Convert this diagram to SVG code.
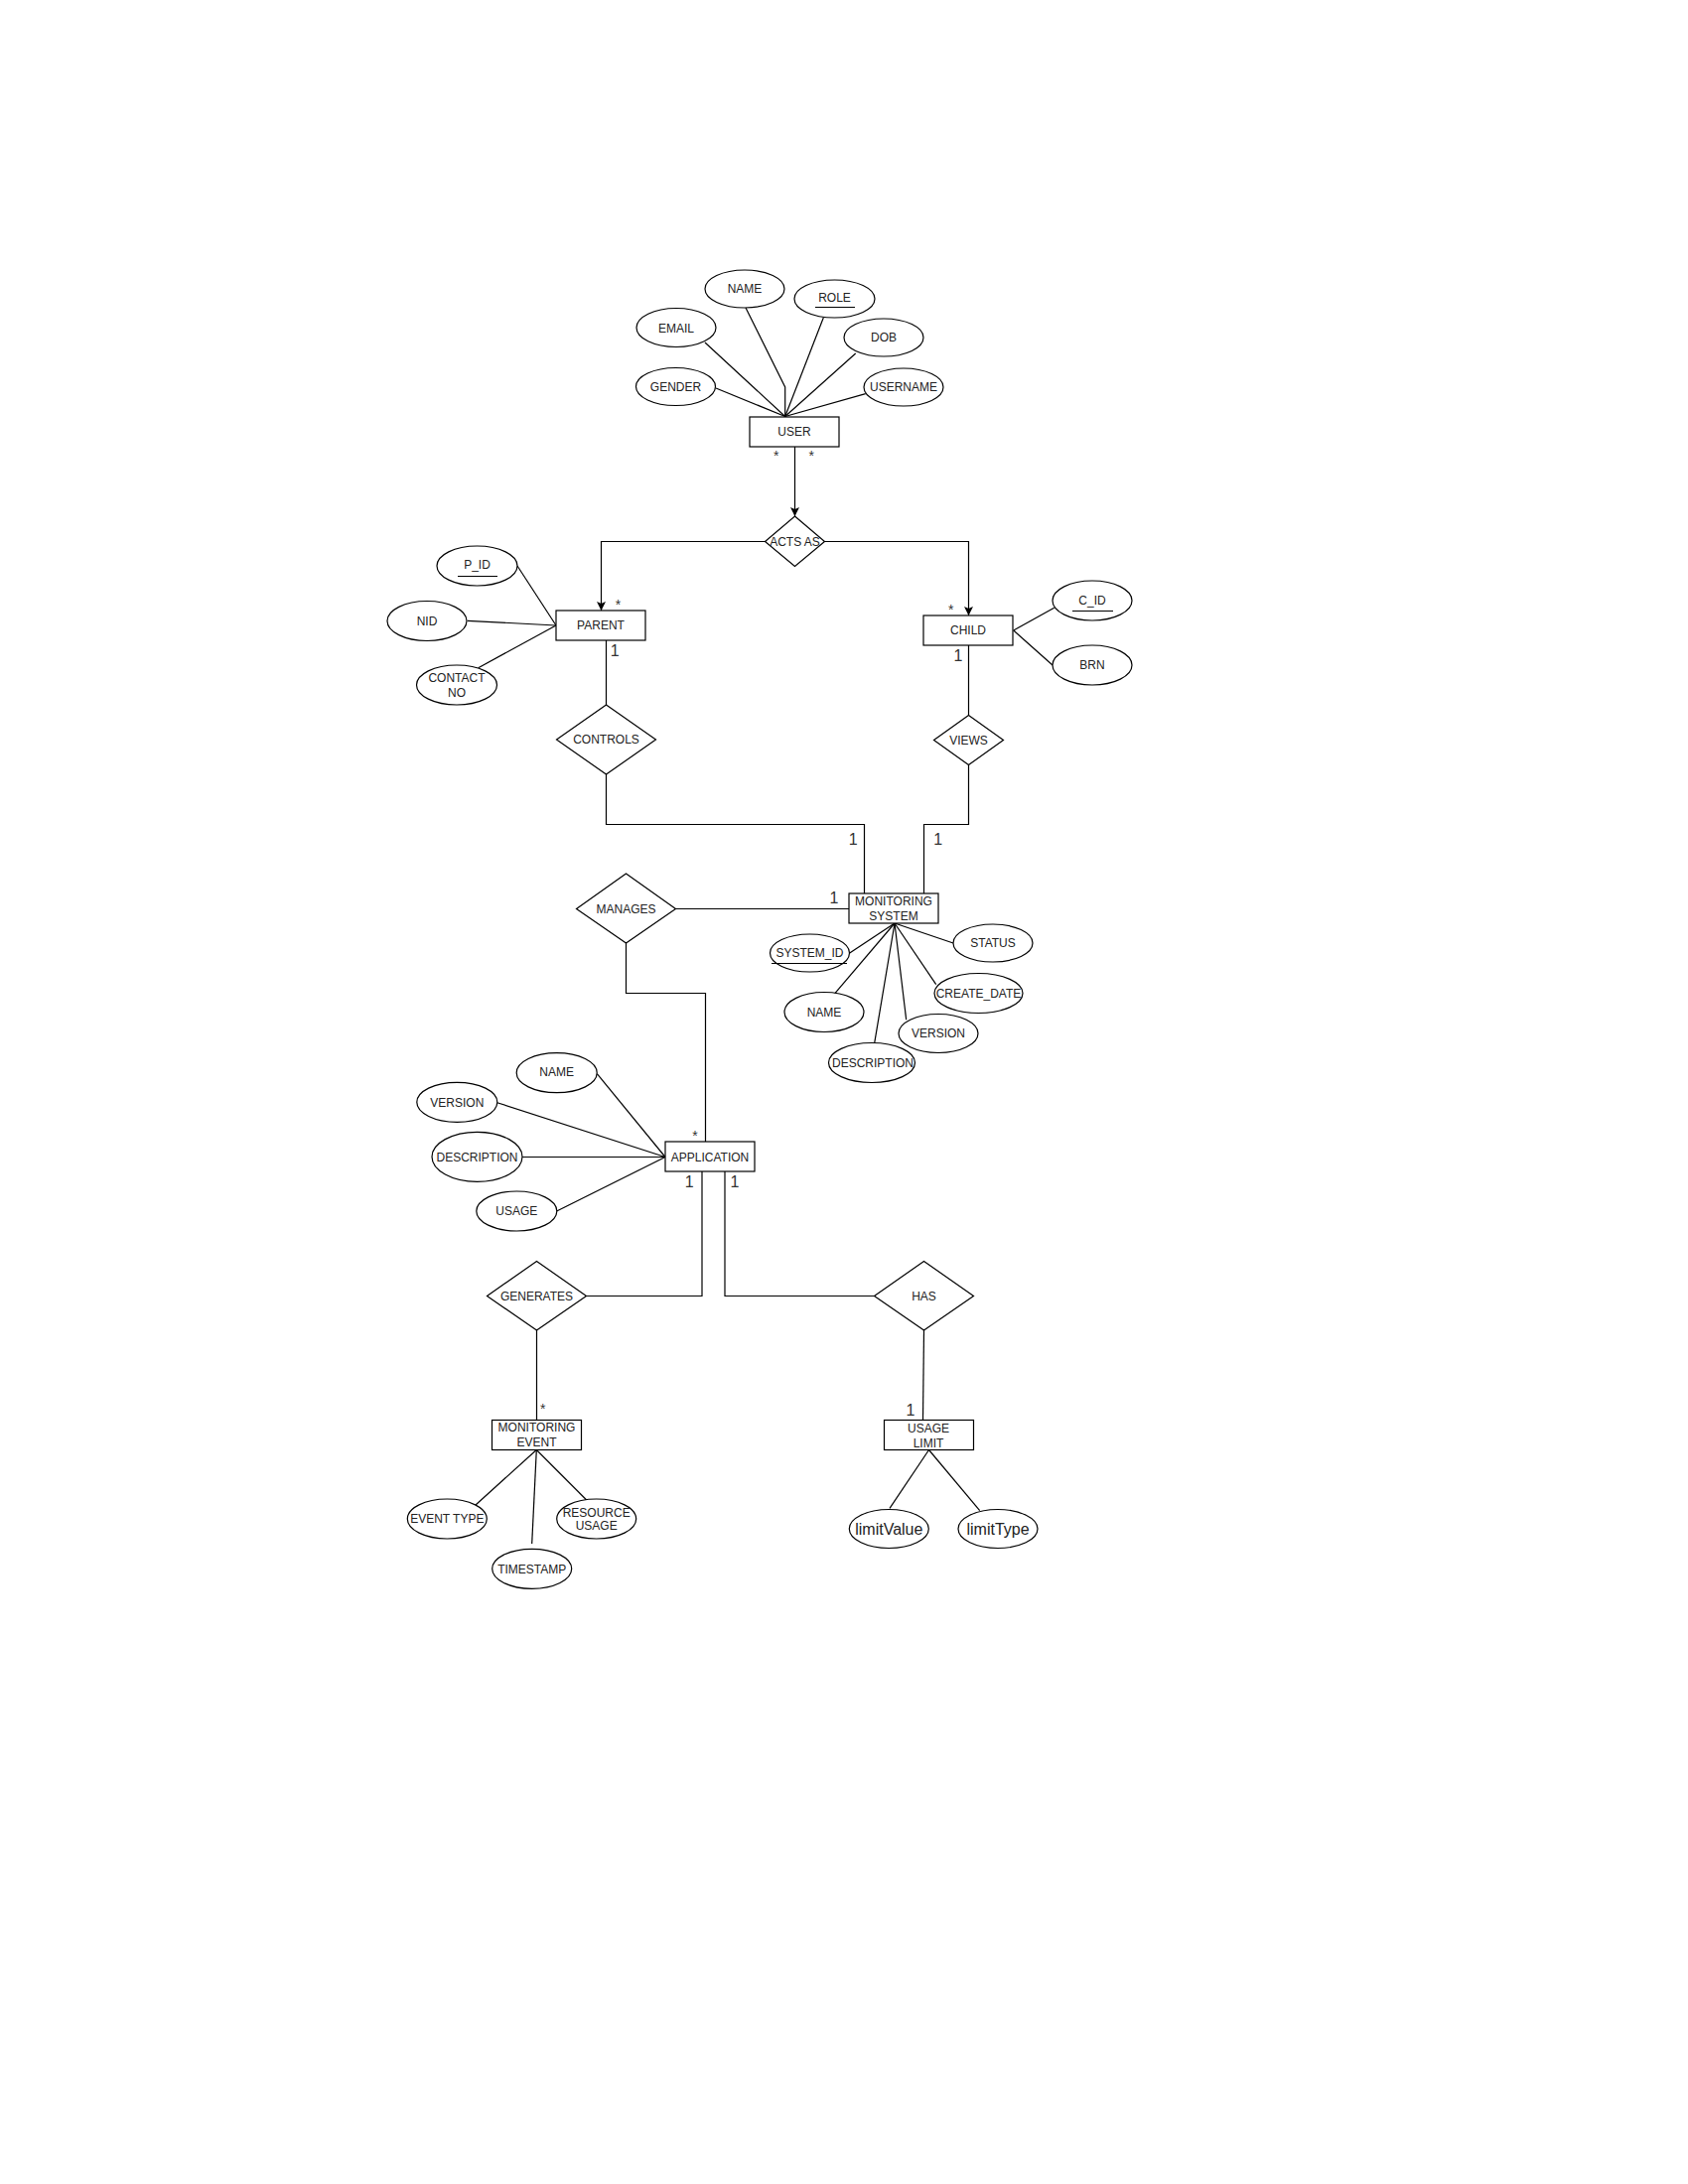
<svg xmlns="http://www.w3.org/2000/svg" width="1700" height="2200" viewBox="0 0 1700 2200">
  <defs>
    <style>
      .ent { fill: #ffffff; stroke: #000000; stroke-width: 1.2; }
      .attr { fill: #ffffff; stroke: #000000; stroke-width: 1.2; }
      .rel { fill: #ffffff; stroke: #000000; stroke-width: 1.2; }
      .edge { fill: none; stroke: #000000; stroke-width: 1.2; }
      .key { stroke: #000000; stroke-width: 1.2; }
      text { font-family: "Liberation Sans", Arial, sans-serif; fill: #222222; }
      .lbl { font-size: 12px; text-anchor: middle; }
      .big { font-size: 16px; text-anchor: middle; }
      .card { font-size: 16px; text-anchor: middle; fill: #333333; }
      .many { font-size: 14px; text-anchor: middle; fill: #333333; }
    </style>
    <marker id="arrow" markerUnits="userSpaceOnUse" markerWidth="10" markerHeight="10" refX="9" refY="4.5" orient="auto">
      <path d="M0,0 L9,4.5 L0,9 L2,4.5 z" fill="#000000"/>
    </marker>
  </defs>
  <rect width="1700" height="2200" fill="#ffffff"/>

  <!-- connectors -->
  <g id="connectors">
    <!-- USER attributes -->
    <polyline class="edge" points="751,310 790.7,390 790.7,419.5"/>
    <line class="edge" x1="710" y1="345" x2="790.7" y2="419.5"/>
    <line class="edge" x1="721" y1="391" x2="790.7" y2="419.5"/>
    <line class="edge" x1="829.3" y1="320" x2="790.7" y2="419.5"/>
    <line class="edge" x1="861.7" y1="356" x2="790.7" y2="419.5"/>
    <line class="edge" x1="871.7" y1="396.7" x2="790.7" y2="419.5"/>
    <!-- USER / ACTS AS / PARENT / CHILD -->
    <line class="edge" x1="800.5" y1="450" x2="800.5" y2="520" marker-end="url(#arrow)"/>
    <polyline class="edge" points="770.5,545.5 605.5,545.5 605.5,615" marker-end="url(#arrow)"/>
    <polyline class="edge" points="830.5,545.5 975.5,545.5 975.5,620" marker-end="url(#arrow)"/>
    <!-- PARENT attributes -->
    <line class="edge" x1="521" y1="570" x2="560" y2="630"/>
    <line class="edge" x1="470.7" y1="625.3" x2="560" y2="630"/>
    <line class="edge" x1="481.7" y1="672.7" x2="560" y2="630"/>
    <!-- CHILD attributes -->
    <line class="edge" x1="1061.7" y1="612.3" x2="1020.7" y2="635"/>
    <line class="edge" x1="1060" y1="670" x2="1020.7" y2="635"/>
    <!-- PARENT - CONTROLS - MONITORING SYSTEM -->
    <line class="edge" x1="610.5" y1="645" x2="610.5" y2="710"/>
    <polyline class="edge" points="610.5,780 610.5,830.5 870.5,830.5 870.5,900"/>
    <!-- CHILD - VIEWS - MONITORING SYSTEM -->
    <line class="edge" x1="975.5" y1="650" x2="975.5" y2="720.5"/>
    <polyline class="edge" points="975.5,770.5 975.5,830.5 930.5,830.5 930.5,900"/>
    <!-- MANAGES - MONITORING SYSTEM -->
    <line class="edge" x1="680.5" y1="915.5" x2="855" y2="915.5"/>
    <!-- MONITORING SYSTEM attributes -->
    <line class="edge" x1="855.7" y1="960" x2="901" y2="930"/>
    <line class="edge" x1="840" y1="1001.7" x2="901" y2="930"/>
    <line class="edge" x1="880.7" y1="1050.7" x2="901" y2="930"/>
    <line class="edge" x1="912.7" y1="1027.3" x2="901" y2="930"/>
    <line class="edge" x1="942.7" y1="991.7" x2="901" y2="930"/>
    <line class="edge" x1="960" y1="950" x2="901" y2="930"/>
    <!-- MANAGES - APPLICATION -->
    <polyline class="edge" points="630.5,950 630.5,1000.5 710.5,1000.5 710.5,1150"/>
    <!-- APPLICATION attributes -->
    <line class="edge" x1="601.3" y1="1081.7" x2="670" y2="1165.5"/>
    <line class="edge" x1="500.7" y1="1110.7" x2="670" y2="1165.5"/>
    <line class="edge" x1="526" y1="1165.5" x2="670" y2="1165.5"/>
    <line class="edge" x1="560.7" y1="1220" x2="670" y2="1165.5"/>
    <!-- APPLICATION - GENERATES / HAS -->
    <polyline class="edge" points="707,1180 707,1305.5 590,1305.5"/>
    <polyline class="edge" points="730,1180 730,1305.5 880.5,1305.5"/>
    <!-- GENERATES - MONITORING EVENT, HAS - USAGE LIMIT -->
    <line class="edge" x1="540.5" y1="1340" x2="540.5" y2="1430"/>
    <line class="edge" x1="930.5" y1="1340" x2="929.5" y2="1430"/>
    <!-- MONITORING EVENT attributes -->
    <line class="edge" x1="479" y1="1516" x2="540.3" y2="1460.5"/>
    <line class="edge" x1="535.7" y1="1555" x2="540.3" y2="1460.5"/>
    <line class="edge" x1="590.7" y1="1511" x2="540.3" y2="1460.5"/>
    <!-- USAGE LIMIT attributes -->
    <line class="edge" x1="896" y1="1519.3" x2="935.5" y2="1460.5"/>
    <line class="edge" x1="986.7" y1="1521.7" x2="935.5" y2="1460.5"/>

    <!-- cardinalities -->
    <text class="many" x="781.7" y="464">*</text>
    <text class="many" x="817.3" y="464">*</text>
    <text class="many" x="622.5" y="614">*</text>
    <text class="many" x="957.7" y="619">*</text>
    <text class="many" x="700" y="1149">*</text>
    <text class="many" x="546.7" y="1424">*</text>
    <text class="card" x="619.3" y="660.7">1</text>
    <text class="card" x="965" y="665.7">1</text>
    <text class="card" x="859.3" y="850.7">1</text>
    <text class="card" x="944.7" y="850.7">1</text>
    <text class="card" x="840" y="909.7">1</text>
    <text class="card" x="694.3" y="1195.7">1</text>
    <text class="card" x="740" y="1195.7">1</text>
    <text class="card" x="917" y="1425.7">1</text>
  </g>

  <!-- USER -->
  <g id="user">
    <rect class="ent" x="755" y="420" width="90" height="30"/>
    <text class="lbl" x="800" y="439.3">USER</text>
  </g>
  <g id="user-name">
    <ellipse class="attr" cx="750" cy="291" rx="40" ry="19"/>
    <text class="lbl" x="750" y="295.3">NAME</text>
  </g>
  <g id="user-role">
    <ellipse class="attr" cx="840.5" cy="301" rx="40.5" ry="19"/>
    <text class="lbl" x="840.5" y="304.3">ROLE</text>
    <line class="key" x1="821" y1="309.5" x2="861" y2="309.5"/>
  </g>
  <g id="user-email">
    <ellipse class="attr" cx="681" cy="330" rx="40" ry="19.5"/>
    <text class="lbl" x="681" y="335.3">EMAIL</text>
  </g>
  <g id="user-dob">
    <ellipse class="attr" cx="890" cy="340" rx="40" ry="19"/>
    <text class="lbl" x="890" y="344.3">DOB</text>
  </g>
  <g id="user-gender">
    <ellipse class="attr" cx="680.5" cy="389.5" rx="40" ry="19"/>
    <text class="lbl" x="680.5" y="393.6">GENDER</text>
  </g>
  <g id="user-username">
    <ellipse class="attr" cx="910" cy="390" rx="40" ry="19"/>
    <text class="lbl" x="910" y="394.3">USERNAME</text>
  </g>

  <!-- ACTS AS -->
  <g id="acts-as">
    <polygon class="rel" points="800.5,520 830.5,545.5 800.5,570.5 770.5,545.5"/>
    <text class="lbl" x="800.5" y="549.8">ACTS AS</text>
  </g>

  <!-- PARENT -->
  <g id="parent">
    <rect class="ent" x="560" y="615" width="90" height="30"/>
    <text class="lbl" x="605" y="634.3">PARENT</text>
  </g>
  <g id="parent-pid">
    <ellipse class="attr" cx="480.5" cy="570" rx="40.5" ry="20"/>
    <text class="lbl" x="480.5" y="572.5">P_ID</text>
    <line class="key" x1="461" y1="580.5" x2="501" y2="580.5"/>
  </g>
  <g id="parent-nid">
    <ellipse class="attr" cx="430" cy="625.5" rx="40" ry="20"/>
    <text class="lbl" x="430" y="629.8">NID</text>
  </g>
  <g id="parent-contact">
    <ellipse class="attr" cx="460" cy="690" rx="40.5" ry="20"/>
    <text class="lbl" x="460" y="687">CONTACT</text>
    <text class="lbl" x="460" y="701.6">NO</text>
  </g>

  <!-- CHILD -->
  <g id="child">
    <rect class="ent" x="930" y="620" width="90" height="30"/>
    <text class="lbl" x="975" y="639.3">CHILD</text>
  </g>
  <g id="child-cid">
    <ellipse class="attr" cx="1100" cy="605" rx="40" ry="20"/>
    <text class="lbl" x="1100" y="608.6">C_ID</text>
    <line class="key" x1="1080" y1="615.5" x2="1121" y2="615.5"/>
  </g>
  <g id="child-brn">
    <ellipse class="attr" cx="1100" cy="670" rx="40" ry="20"/>
    <text class="lbl" x="1100" y="674.3">BRN</text>
  </g>

  <!-- CONTROLS / VIEWS -->
  <g id="controls">
    <polygon class="rel" points="610.5,710 660.5,745 610.5,780 560.5,745"/>
    <text class="lbl" x="610.5" y="749.3">CONTROLS</text>
  </g>
  <g id="views">
    <polygon class="rel" points="975.5,720.5 1010.5,745.5 975.5,770.5 940.5,745.5"/>
    <text class="lbl" x="975.5" y="749.8">VIEWS</text>
  </g>

  <!-- MONITORING SYSTEM -->
  <g id="monitoring-system">
    <rect class="ent" x="855" y="900" width="90" height="30"/>
    <text class="lbl" x="900" y="911.6">MONITORING</text>
    <text class="lbl" x="900" y="926.6">SYSTEM</text>
  </g>
  <g id="ms-system-id">
    <ellipse class="attr" cx="815.5" cy="960" rx="40" ry="19"/>
    <text class="lbl" x="815.5" y="963.6">SYSTEM_ID</text>
    <line class="key" x1="777" y1="970.5" x2="853" y2="970.5"/>
  </g>
  <g id="ms-status">
    <ellipse class="attr" cx="1000" cy="950" rx="40" ry="19"/>
    <text class="lbl" x="1000" y="954.3">STATUS</text>
  </g>
  <g id="ms-create-date">
    <ellipse class="attr" cx="985.5" cy="1000.5" rx="44.5" ry="20"/>
    <text class="lbl" x="985.5" y="1004.8">CREATE_DATE</text>
  </g>
  <g id="ms-name">
    <ellipse class="attr" cx="830" cy="1019.5" rx="40" ry="20"/>
    <text class="lbl" x="830" y="1023.8">NAME</text>
  </g>
  <g id="ms-version">
    <ellipse class="attr" cx="945" cy="1041" rx="40" ry="19.5"/>
    <text class="lbl" x="945" y="1044.6">VERSION</text>
  </g>
  <g id="ms-description">
    <ellipse class="attr" cx="878" cy="1070.5" rx="43.5" ry="20"/>
    <text class="lbl" x="879" y="1074.8">DESCRIPTION</text>
  </g>

  <!-- MANAGES -->
  <g id="manages">
    <polygon class="rel" points="630.5,880 680.5,915.5 630.5,950 580.5,915.5"/>
    <text class="lbl" x="630.5" y="919.8">MANAGES</text>
  </g>

  <!-- APPLICATION -->
  <g id="application">
    <rect class="ent" x="670" y="1150" width="90" height="30"/>
    <text class="lbl" x="715" y="1169.6">APPLICATION</text>
  </g>
  <g id="app-name">
    <ellipse class="attr" cx="560.7" cy="1080.7" rx="40.5" ry="20"/>
    <text class="lbl" x="560.7" y="1084.3">NAME</text>
  </g>
  <g id="app-version">
    <ellipse class="attr" cx="460.3" cy="1110.3" rx="40.5" ry="20"/>
    <text class="lbl" x="460.3" y="1114.6">VERSION</text>
  </g>
  <g id="app-description">
    <ellipse class="attr" cx="480.5" cy="1165.3" rx="45.5" ry="25"/>
    <text class="lbl" x="480.5" y="1169.6">DESCRIPTION</text>
  </g>
  <g id="app-usage">
    <ellipse class="attr" cx="520.3" cy="1220" rx="40.5" ry="20"/>
    <text class="lbl" x="520.3" y="1224.3">USAGE</text>
  </g>

  <!-- GENERATES / HAS -->
  <g id="generates">
    <polygon class="rel" points="540.5,1270.5 590.5,1305.5 540.5,1340 490.5,1305.5"/>
    <text class="lbl" x="540.5" y="1309.8">GENERATES</text>
  </g>
  <g id="has">
    <polygon class="rel" points="930.5,1270.5 980.5,1305.5 930.5,1340 880.5,1305.5"/>
    <text class="lbl" x="930.5" y="1309.8">HAS</text>
  </g>

  <!-- MONITORING EVENT -->
  <g id="monitoring-event">
    <rect class="ent" x="495.5" y="1430.5" width="90" height="30"/>
    <text class="lbl" x="540.5" y="1442">MONITORING</text>
    <text class="lbl" x="540.5" y="1457">EVENT</text>
  </g>
  <g id="event-type">
    <ellipse class="attr" cx="450.3" cy="1530" rx="40" ry="20"/>
    <text class="lbl" x="450.3" y="1534.3">EVENT TYPE</text>
  </g>
  <g id="event-resource-usage">
    <ellipse class="attr" cx="600.7" cy="1530" rx="40" ry="20"/>
    <text class="lbl" x="600.7" y="1527.6">RESOURCE</text>
    <text class="lbl" x="600.7" y="1541.3">USAGE</text>
  </g>
  <g id="event-timestamp">
    <ellipse class="attr" cx="535.7" cy="1580.3" rx="40" ry="20"/>
    <text class="lbl" x="535.7" y="1584.6">TIMESTAMP</text>
  </g>

  <!-- USAGE LIMIT -->
  <g id="usage-limit">
    <rect class="ent" x="890.5" y="1430.5" width="90" height="30"/>
    <text class="lbl" x="935" y="1442.6">USAGE</text>
    <text class="lbl" x="935" y="1457.6">LIMIT</text>
  </g>
  <g id="limit-value">
    <ellipse class="attr" cx="895.3" cy="1540" rx="40" ry="19.5"/>
    <text class="big" x="895.3" y="1545.7">limitValue</text>
  </g>
  <g id="limit-type">
    <ellipse class="attr" cx="1005" cy="1540" rx="40" ry="19.5"/>
    <text class="big" x="1005" y="1545.7">limitType</text>
  </g>
</svg>
